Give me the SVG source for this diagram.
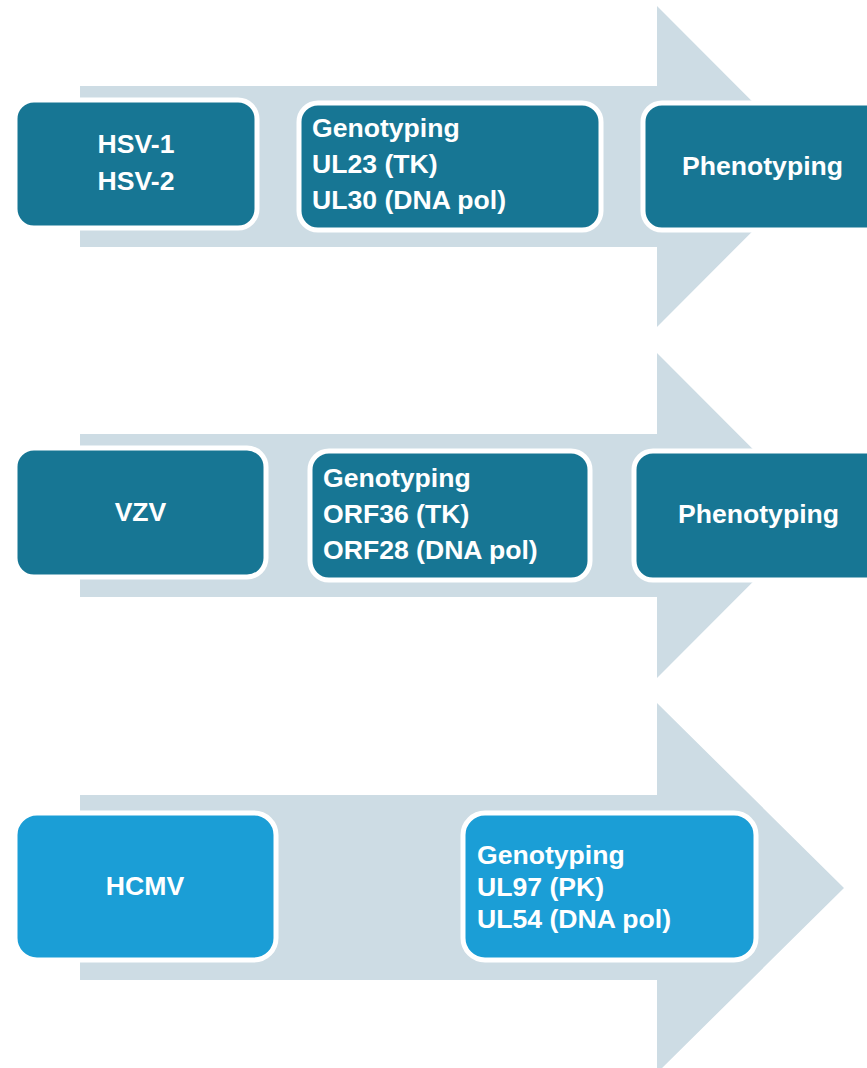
<svg xmlns="http://www.w3.org/2000/svg" width="867" height="1068" viewBox="0 0 867 1068">
<style>
.arrow{fill:#CDDCE4;}
.dark{fill:#177694;stroke:#FFFFFF;stroke-width:5;}
.light{fill:#1B9ED6;stroke:#FFFFFF;stroke-width:5;}
text{font-family:"Liberation Sans",Arial,sans-serif;font-weight:bold;font-size:26.6px;fill:#FFFFFF;}
.c{text-anchor:middle;}
</style>
<rect width="867" height="1068" fill="#FFFFFF"/>
<g id="connectors">
<polygon class="arrow" points="80,86 657,86 657,6 817,166.5 657,327 657,247 80,247"/>
<polygon class="arrow" points="80,434 657,434 657,353 819,515.5 657,678 657,597 80,597"/>
<polygon class="arrow" points="80,795 657,795 657,703 844,888 657,1073 657,980 80,980"/>
</g>
<g id="hsv">
<rect class="dark" x="15" y="100" width="242" height="128" rx="19"/>
<text class="c" x="136" y="153">HSV-1</text>
<text class="c" x="136" y="190">HSV-2</text>
</g>
<g id="hsv-genotyping">
<rect class="dark" x="299" y="103" width="302" height="127" rx="19"/>
<text x="312" y="137">Genotyping</text>
<text x="312" y="173">UL23 (TK)</text>
<text x="312" y="209">UL30 (DNA pol)</text>
</g>
<g id="hsv-phenotyping">
<rect class="dark" x="643" y="103" width="260" height="127" rx="19"/>
<text class="c" x="762.5" y="175">Phenotyping</text>
</g>
<g id="vzv">
<rect class="dark" x="15" y="448" width="251" height="129" rx="19"/>
<text class="c" x="140.5" y="521">VZV</text>
</g>
<g id="vzv-genotyping">
<rect class="dark" x="310" y="451" width="280" height="129" rx="19"/>
<text x="323" y="487">Genotyping</text>
<text x="323" y="523">ORF36 (TK)</text>
<text x="323" y="559">ORF28 (DNA pol)</text>
</g>
<g id="vzv-phenotyping">
<rect class="dark" x="634" y="451" width="270" height="129" rx="19"/>
<text class="c" x="758.5" y="523">Phenotyping</text>
</g>
<g id="hcmv">
<rect class="light" x="15" y="813" width="261" height="147" rx="22"/>
<text class="c" x="145" y="895">HCMV</text>
</g>
<g id="hcmv-genotyping">
<rect class="light" x="463" y="813" width="293" height="147" rx="22"/>
<text x="477" y="864">Genotyping</text>
<text x="477" y="896">UL97 (PK)</text>
<text x="477" y="928">UL54 (DNA pol)</text>
</g>
</svg>
